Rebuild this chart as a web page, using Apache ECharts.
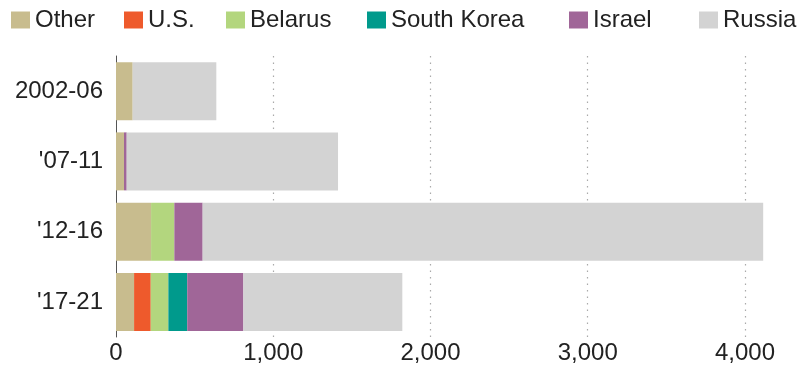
<!DOCTYPE html>
<html>
<head>
<meta charset="utf-8">
<script src="https://cdn.jsdelivr.net/npm/echarts@6/dist/echarts.min.js"></script>
<style>
html,body{margin:0;padding:0;background:#fff;}
#chart{width:807px;height:367px;}
</style>
</head>
<body>
<div id="chart"></div>
<script>
const categories = ["2002-06", "'07-11", "'12-16", "'17-21"];
const seriesNames = ["Other", "U.S.", "Belarus", "South Korea", "Israel", "Russia"];
const other = [106, 51, 223, 115];
const us = [0, 0, 0, 106];
const belarus = [0, 0, 148, 112];
const southKorea = [0, 0, 0, 120];
const israel = [0, 17, 180, 357];
const russia = [532, 1344, 3565, 1011];
const xTicks = [0, 1000, 2000, 3000, 4000];

const colors = ["#c8bc8e", "#ee5a2c", "#b3d67e", "#009a8c", "#a06698", "#d3d3d3"];
const values = [other, us, belarus, southKorea, israel, russia];
const legendLefts = [11, 124, 226, 367, 569, 699];

const chart = echarts.init(document.getElementById('chart'), null, {renderer: 'canvas'});
const font = 'Liberation Sans, Arial, sans-serif';

chart.setOption({
  backgroundColor: '#fff',
  animation: false,
  color: colors,
  legend: seriesNames.map((n, i) => ({
    data: [n],
    left: legendLefts[i],
    top: 8,
    padding: 0,
    itemWidth: 19,
    itemHeight: 17,
    icon: 'rect',
    selectedMode: false,
    textStyle: {fontSize: 24, color: '#222', fontFamily: font}
  })),
  grid: {left: 116, top: 56, width: 660.4, height: 281, containLabel: false},
  xAxis: {
    type: 'value',
    min: 0,
    max: 4200,
    interval: 1000,
    axisLine: {show: false},
    axisTick: {show: false},
    axisLabel: {
      fontSize: 24, color: '#222', fontFamily: font, margin: 4,
      showMaxLabel: false,
      formatter: v => xTicks.includes(v) ? v.toLocaleString('en-US') : ''
    },
    splitLine: {
      show: true, showMinLine: false, showMaxLine: false,
      lineStyle: {color: '#aaa', width: 1.2, type: [1.5, 5]}
    }
  },
  yAxis: {
    type: 'category',
    data: categories,
    inverse: true,
    axisLine: {show: true, lineStyle: {color: '#555', width: 1}},
    axisTick: {show: false},
    axisLabel: {fontSize: 24, color: '#222', fontFamily: font, margin: 13},
    splitLine: {show: false}
  },
  series: seriesNames.map((n, i) => ({
    name: n,
    type: 'bar',
    stack: 'total',
    barWidth: 58,
    data: values[i],
    itemStyle: {color: colors[i]},
    emphasis: {disabled: true}
  }))
});
</script>
</body>
</html>
